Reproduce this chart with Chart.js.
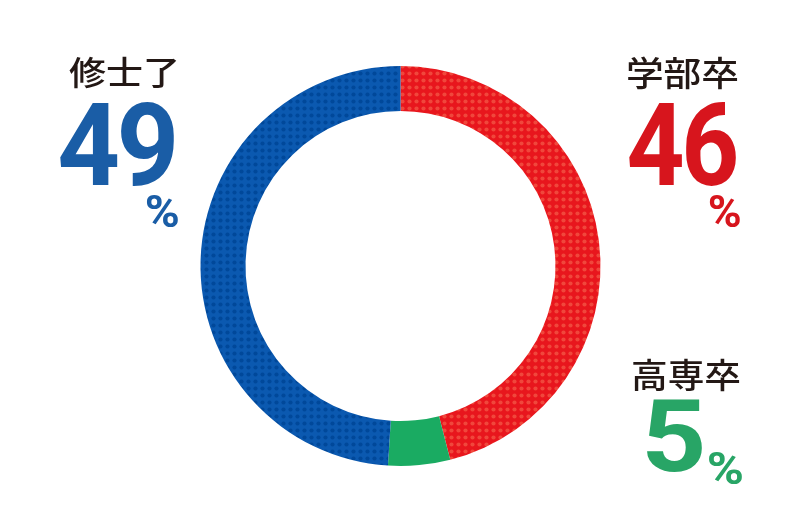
<!DOCTYPE html>
<html>
<head>
<meta charset="utf-8">
<script src="https://cdn.jsdelivr.net/npm/chart.js@4"></script>
<style>
    body { margin: 0; background: #fff; }
    #wrap { width: 800px; height: 520px; }
</style>
</head>
<body>
<div id="wrap"><canvas id="chart" width="800" height="520"></canvas></div>
<script>
// Data
const categories = ['学部卒', '高専卒', '修士了'];
const shares = [46, 5, 49];

// Colours
const baseColors = ['#e8161d', '#1aab62', '#0b59b0'];
const dotColors = ['#f0473c', null, '#00489a'];
const textColors = ['#d7151d', '#28a566', '#1a5da6'];

// Label boxes (ink bounds) : [x0, y0, x1, y1]
const nameBoxes = [[628, 56, 738, 90], [633, 358, 740, 392], [69, 56, 177, 89]];
const numberBoxes = [[629, 101, 736, 186], [647, 400, 702, 472], [60, 102, 174, 186]];
const percentBoxes = [[709, 195, 740, 227], [708, 452, 742, 484], [146, 195, 178, 227]];

function dotPattern(base, dot) {
    if (!dot) return base;
    const c = document.createElement('canvas');
    c.width = 7;
    c.height = 7;
    const g = c.getContext('2d');
    g.fillStyle = base;
    g.fillRect(0, 0, 7, 7);
    g.fillStyle = dot;
    g.beginPath();
    g.arc(3.5, 3.5, 2.1, 0, Math.PI * 2);
    g.fill();
    return document.getElementById('chart').getContext('2d').createPattern(c, 'repeat');
}

// draw text so that its ink fills the given box
function drawFit(ctx, text, font, color, box, spacing) {
    ctx.save();
    ctx.font = font;
    ctx.letterSpacing = spacing || '0px';
    ctx.textAlign = 'left';
    ctx.textBaseline = 'alphabetic';
    const m = ctx.measureText(text);
    const w = m.actualBoundingBoxLeft + m.actualBoundingBoxRight;
    const h = m.actualBoundingBoxAscent + m.actualBoundingBoxDescent;
    const sx = (box[2] - box[0]) / w;
    const sy = (box[3] - box[1]) / h;
    ctx.translate(box[0], box[1]);
    ctx.scale(sx, sy);
    ctx.fillStyle = color;
    ctx.fillText(text, m.actualBoundingBoxLeft, m.actualBoundingBoxAscent);
    ctx.restore();
}

const labelPlugin = {
    id: 'labels',
    afterDraw(chart) {
        const ctx = chart.ctx;
        categories.forEach((name, i) => {
            drawFit(ctx, name, '500 36px "Noto Sans CJK JP"', '#231815', nameBoxes[i]);
            drawFit(ctx, String(shares[i]), 'bold 120px Roboto', textColors[i], numberBoxes[i], '-4px');
            drawFit(ctx, '%', 'bold 40px Roboto', textColors[i], percentBoxes[i]);
        });
    }
};

new Chart(document.getElementById('chart'), {
    type: 'doughnut',
    data: {
        labels: categories,
        datasets: [{
            data: shares,
            backgroundColor: baseColors.map((c, i) => dotPattern(c, dotColors[i])),
            borderWidth: 0
        }]
    },
    options: {
        responsive: false,
        animation: false,
        cutout: '77.5%',
        layout: {
            padding: { top: 66, bottom: 54, left: 1, right: 0 }
        },
        plugins: {
            legend: { display: false },
            tooltip: { enabled: false }
        }
    },
    plugins: [labelPlugin]
});
</script>
</body>
</html>
